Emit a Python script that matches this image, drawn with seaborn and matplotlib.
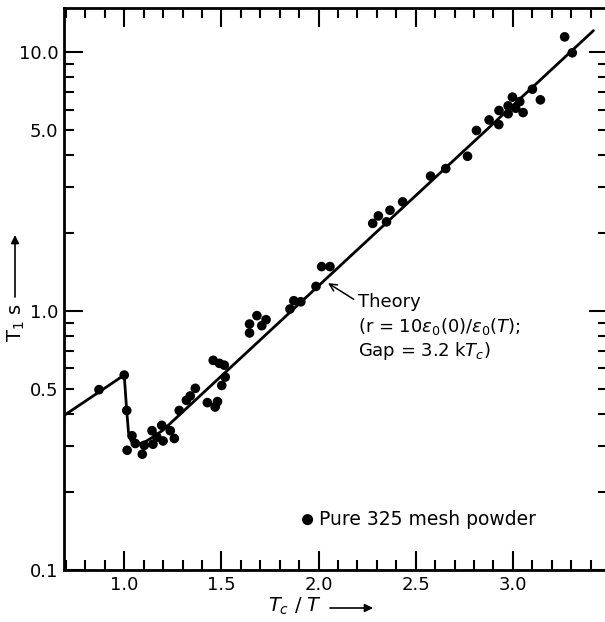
import numpy as np
import matplotlib
matplotlib.use("Agg")
import matplotlib.pyplot as plt
from matplotlib.ticker import MultipleLocator, LogLocator, FuncFormatter
import seaborn as sns

sns.set_style("ticks")
plt.rcParams["font.family"] = ["DejaVu Sans"]
plt.rcParams["mathtext.fontset"] = "dejavusans"
plt.rcParams["text.color"] = "black"

# ---- measured T1 (s) vs Tc/T, pure 325 mesh powder ----
tc_over_t = [0.87, 1.00,
             1.013, 1.040, 1.015, 1.057, 1.093, 1.103, 1.143, 1.148, 1.168, 1.193, 1.200, 1.237, 1.258, 1.283,
             1.320, 1.340, 1.366, 1.428, 1.468, 1.480, 1.458, 1.490, 1.515, 1.502, 1.520,
             1.645, 1.645, 1.683, 1.708, 1.730,
             1.853, 1.873, 1.909, 1.987, 2.016, 2.059,
             2.279, 2.308, 2.350, 2.368, 2.433, 2.577, 2.655, 2.767, 2.813, 2.878, 2.928, 2.929,
             2.976, 2.976, 2.998, 3.015, 3.036, 3.053, 3.101, 3.142, 3.267, 3.306]
t1_sec = [0.497, 0.566,
          0.413, 0.330, 0.290, 0.308, 0.280, 0.303, 0.345, 0.306, 0.326, 0.362, 0.315, 0.345, 0.322, 0.413,
          0.452, 0.470, 0.503, 0.443, 0.426, 0.447, 0.645, 0.628, 0.618, 0.516, 0.556,
          0.823, 0.891, 0.960, 0.878, 0.926,
          1.018, 1.096, 1.086, 1.245, 1.485, 1.485,
          2.18, 2.33, 2.21, 2.45, 2.64, 3.32, 3.55, 3.96, 4.98, 5.47, 5.25, 5.95,
          5.78, 6.20, 6.70, 6.07, 6.44, 5.84, 7.19, 6.54, 11.45, 9.94]

# ---- theory curve ----
theory_x = [0.69, 1.00, 1.012, 1.022, 1.035, 1.06, 1.10, 1.15, 1.20, 3.415]
theory_y = [0.395, 0.566, 0.42, 0.34, 0.315, 0.305, 0.31, 0.327, 0.347, 12.1]

x_major = [1.0, 1.5, 2.0, 2.5, 3.0]
x_labels = ["1.0", "1.5", "2.0", "2.5", "3.0"]
y_major = [0.1, 1.0, 10.0]
y_labels = ["0.1", "1.0", "10.0"]
y_minor_labelled = [0.5, 5.0]

fig = plt.figure(figsize=(6.05, 6.22), dpi=100)
ax = fig.add_axes([64 / 605, 52 / 622, 544 / 605, 562 / 622])
ax.set_yscale("log")

sns.lineplot(x=theory_x, y=theory_y, sort=False, estimator=None, color="black",
             lw=2.0, ax=ax, zorder=2)
sns.scatterplot(x=tc_over_t, y=t1_sec, color="black", s=48, edgecolor="none",
                label="Pure 325 mesh powder", ax=ax, zorder=3)

ax.set_xlim(0.69, 3.49)
ax.set_ylim(0.1, 14.8)

ax.set_xticks(x_major, x_labels)
ax.xaxis.set_minor_locator(MultipleLocator(0.1))
ax.set_yticks(y_major, y_labels)
ax.yaxis.set_minor_locator(LogLocator(base=10, subs=np.arange(2, 10)))
ax.yaxis.set_minor_formatter(FuncFormatter(
    lambda v, _: f"{v:.1f}" if any(np.isclose(v, m) for m in y_minor_labelled) else ""))

ax.tick_params(which="both", direction="in", top=True, right=True, width=1.5,
               colors="black", labelcolor="black")
ax.tick_params(which="major", length=14, labelsize=13, pad=4)
ax.tick_params(which="minor", length=7.5, labelsize=13, pad=4)
for s in ax.spines.values():
    s.set_linewidth(2)
    s.set_color("black")

ax.set_xlabel("")
ax.set_ylabel("")

leg = ax.legend(loc="center left", bbox_to_anchor=(0.434, 0.0907), frameon=False,
                handlelength=0.8, handletextpad=0.2, borderpad=0, borderaxespad=0,
                fontsize=13.5, markerscale=1.15)
for t in leg.get_texts():
    t.set_color("black")

# theory annotation
ax.annotate("Theory", xy=(2.043, 1.29), xytext=(2.204, 1.083), ha="left", va="center",
            fontsize=13, arrowprops=dict(arrowstyle="->", lw=1.1, color="black",
                                         relpos=(0, 0.5), shrinkA=1, shrinkB=1))
ax.text(2.204, 0.875, r"(r = 10$\epsilon_0$(0)/$\epsilon_0$($T$);", ha="left", va="center", fontsize=13)
ax.text(2.204, 0.70, r"Gap = 3.2 k$T_c$)", ha="left", va="center", fontsize=13)

# axis labels with arrows
fig.text(295 / 605, 1 - 606 / 622, r"$T_c$ / $T$", ha="center", va="center", fontsize=14)
ax.annotate("", xy=(373 / 605, 1 - 608 / 622), xytext=(330 / 605, 1 - 608 / 622),
            xycoords="figure fraction", textcoords="figure fraction", annotation_clip=False,
            arrowprops=dict(arrowstyle="-|>", color="black", lw=1.2, mutation_scale=12,
                            shrinkA=0, shrinkB=0))
fig.text(16 / 605, 1 - 323 / 622, r"T$_1$ s", rotation=90, ha="center", va="center", fontsize=14)
ax.annotate("", xy=(15 / 605, 1 - 235 / 622), xytext=(15 / 605, 1 - 297 / 622),
            xycoords="figure fraction", textcoords="figure fraction", annotation_clip=False,
            arrowprops=dict(arrowstyle="-|>", color="black", lw=1.2, mutation_scale=12,
                            shrinkA=0, shrinkB=0))

fig.savefig("out.png", dpi=100)
